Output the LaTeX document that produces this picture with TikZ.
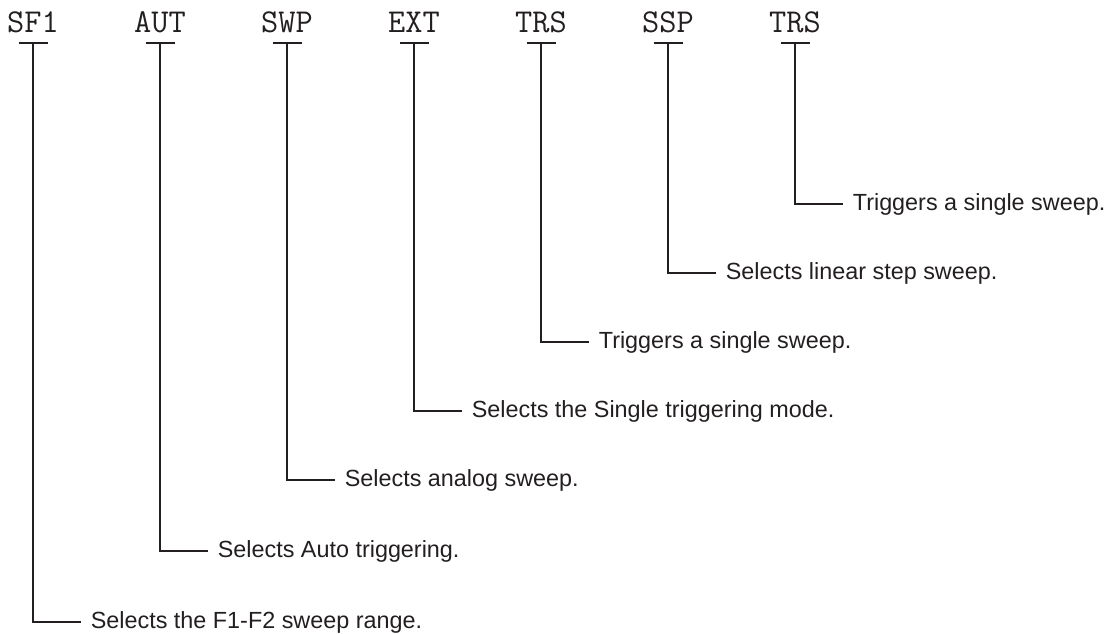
\documentclass[tikz,border=0pt]{standalone}
\usepackage{fontspec}
\setmainfont{Liberation Sans}
\usepackage{tikz}
\usetikzlibrary{positioning, calc}
\definecolor{ink}{HTML}{231F20}
\tikzstyle{key} = [anchor=south, inner xsep=0pt, inner ysep=0.2cm, text depth=0pt, font=\fontsize{19}{22}\selectfont\ttfamily, text=ink]
\tikzstyle{note} = [anchor=west, inner xsep=0.2cm, inner ysep=0pt, font=\fontsize{13.3}{16}\selectfont, text=ink]
\tikzstyle{leader} = [line width=0.75pt, draw=ink]

\begin{document}
\begin{tikzpicture}
    \useasboundingbox (0,0) rectangle (22.2,-12.66);

    % Command keys
    \node (sf1) [key] at (0.66,-0.86) {SF1};
    \node (aut) [key] at (3.20,-0.86) {AUT};
    \node (swp) [key] at (5.74,-0.86) {SWP};
    \node (ext) [key] at (8.28,-0.86) {EXT};
    \node (trsa) [key] at (10.82,-0.86) {TRS};
    \node (ssp) [key] at (13.36,-0.86) {SSP};
    \node (trsb) [key] at (15.90,-0.86) {TRS};

    % Ticks under keys
    \draw [leader] ([xshift=-0.29cm]sf1.south) -- ([xshift=0.29cm]sf1.south);
    \draw [leader] ([xshift=-0.29cm]aut.south) -- ([xshift=0.29cm]aut.south);
    \draw [leader] ([xshift=-0.29cm]swp.south) -- ([xshift=0.29cm]swp.south);
    \draw [leader] ([xshift=-0.29cm]ext.south) -- ([xshift=0.29cm]ext.south);
    \draw [leader] ([xshift=-0.29cm]trsa.south) -- ([xshift=0.29cm]trsa.south);
    \draw [leader] ([xshift=-0.29cm]ssp.south) -- ([xshift=0.29cm]ssp.south);
    \draw [leader] ([xshift=-0.29cm]trsb.south) -- ([xshift=0.29cm]trsb.south);

    % Descriptions
    \node (dsf1) [note] at (1.61,-12.44) {Selects the F1-F2 sweep range.};
    \node (daut) [note] at (4.15,-11.02) {Selects Auto triggering.};
    \node (dswp) [note] at (6.69,-9.60) {Selects analog sweep.};
    \node (dext) [note] at (9.23,-8.22) {Selects the Single triggering mode.};
    \node (dtrsa) [note] at (11.77,-6.84) {Triggers a single sweep.};
    \node (dssp) [note] at (14.31,-5.46) {Selects linear step sweep.};
    \node (dtrsb) [note] at (16.85,-4.08) {Triggers a single sweep.};

    % Leaders
    \draw [leader] (sf1.south) |- (dsf1.west);
    \draw [leader] (aut.south) |- (daut.west);
    \draw [leader] (swp.south) |- (dswp.west);
    \draw [leader] (ext.south) |- (dext.west);
    \draw [leader] (trsa.south) |- (dtrsa.west);
    \draw [leader] (ssp.south) |- (dssp.west);
    \draw [leader] (trsb.south) |- (dtrsb.west);
\end{tikzpicture}
\end{document}
